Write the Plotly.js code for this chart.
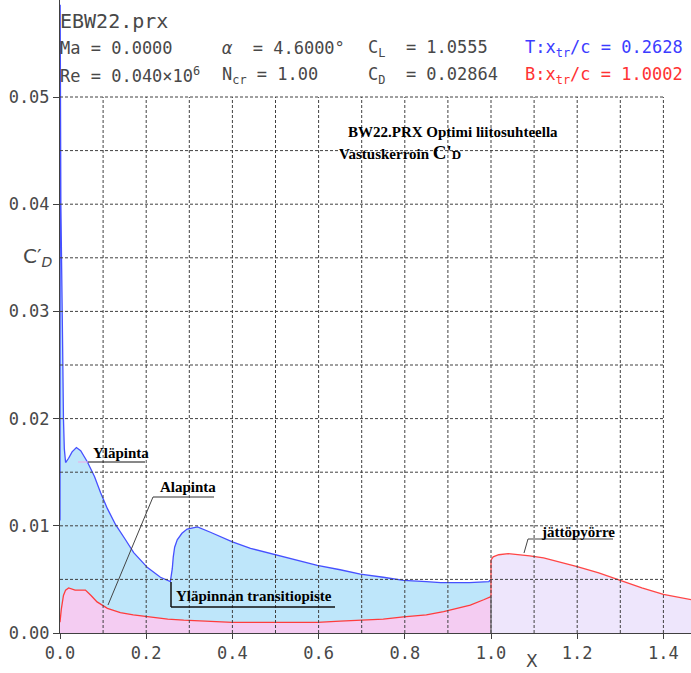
<!DOCTYPE html>
<html>
<head>
<meta charset="utf-8">
<script src="https://cdn.plot.ly/plotly-3.0.1.min.js"></script>
<style>html,body{margin:0;padding:0;background:#fff;}#chart{width:691px;height:673px;}</style>
</head>
<body>
<div id="chart"></div>
<script>
// Upper surface (Yläpinta) C'D
const xTop = [0, 0.0004, 0.002, 0.004, 0.006, 0.008, 0.010, 0.013, 0.020, 0.028, 0.038, 0.048, 0.063, 0.080, 0.094, 0.110, 0.129, 0.152, 0.171, 0.203, 0.233, 0.256, 0.2605, 0.2628, 0.266, 0.272, 0.283, 0.295, 0.319, 0.349, 0.40, 0.442, 0.50, 0.55, 0.597, 0.65, 0.697, 0.75, 0.797, 0.85, 0.883, 0.95, 0.995, 1.0];
const yTop = [0.0105, 0.0586, 0.040, 0.035, 0.027, 0.020, 0.0172, 0.0159, 0.0163, 0.0169, 0.0173, 0.0170, 0.0160, 0.0146, 0.0131, 0.0116, 0.0101, 0.0087, 0.0075, 0.0061, 0.0052, 0.0048, 0.0060, 0.0071, 0.0080, 0.0087, 0.0093, 0.0097, 0.0099, 0.0094, 0.0085, 0.0079, 0.0073, 0.0068, 0.0063, 0.0059, 0.0055, 0.0052, 0.0049, 0.0048, 0.0047, 0.0047, 0.0048, 0.0050];
// Lower surface (Alapinta) C'D
const xBot = [0, 0.003, 0.008, 0.013, 0.020, 0.035, 0.048, 0.059, 0.072, 0.086, 0.11, 0.14, 0.17, 0.21, 0.25, 0.287, 0.33, 0.40, 0.50, 0.597, 0.65, 0.697, 0.75, 0.797, 0.85, 0.89, 0.925, 0.952, 0.983, 1.0];
const yBot = [0.0010, 0.0022, 0.0035, 0.0040, 0.0042, 0.0040, 0.0040, 0.0040, 0.0035, 0.0029, 0.0023, 0.0019, 0.0017, 0.0015, 0.0013, 0.0012, 0.0011, 0.0010, 0.0010, 0.0010, 0.0011, 0.0012, 0.0013, 0.0015, 0.0017, 0.0020, 0.0023, 0.0026, 0.0031, 0.0034];
// Wake (jättöpyörre)
const xWake = [1.0, 1.0, 1.005, 1.018, 1.04, 1.068, 1.09, 1.122, 1.16, 1.2, 1.25, 1.30, 1.35, 1.40, 1.465];
const yWake = [0.0034, 0.0068, 0.0071, 0.0073, 0.0074, 0.0073, 0.0072, 0.0070, 0.0066, 0.0062, 0.0056, 0.0049, 0.0042, 0.0036, 0.0031];

const xTickVals = [0, 0.2, 0.4, 0.6, 0.8, 1.0, 1.2, 1.4];
const yTickVals = [0, 0.01, 0.02, 0.03, 0.04, 0.05];

const W = 691, H = 673, ML = 60, MB = 40;
const PW = W - ML, PH = H - MB;
const px = v => (v - ML) / PW;
const py = v => (PH - v) / PH;

const mono = "DejaVu Sans Mono";
const serif = "Liberation Serif, Times New Roman, serif";
const txtCol = "#484848";

const traces = [
  {x: xTop, y: yTop, type: "scatter", mode: "lines", fill: "tozeroy",
   fillcolor: "rgb(190,230,250)", line: {color: "rgb(70,80,255)", width: 1.3}, hoverinfo: "skip"},
  {x: xBot, y: yBot, type: "scatter", mode: "lines", fill: "tozeroy",
   fillcolor: "rgb(244,204,242)", line: {color: "rgb(255,60,60)", width: 1.3}, hoverinfo: "skip"},
  {x: xWake, y: yWake, type: "scatter", mode: "lines", fill: "tozeroy",
   fillcolor: "rgb(238,230,252)", line: {color: "rgb(255,70,70)", width: 1.3}, hoverinfo: "skip"}
];

const shapes = [];
const gridStyle = {color: "#404040", width: 1, dash: "3px,2px"};
for (let i = 1; i <= 14; i++) {
  const xv = i / 10;
  shapes.push({type: "line", xref: "x", yref: "y", x0: xv, x1: xv, y0: 0, y1: 0.05, line: gridStyle, layer: "above"});
}
for (let j = 1; j <= 10; j++) {
  const yv = j * 0.005;
  shapes.push({type: "line", xref: "x", yref: "y", x0: 0, x1: 1.4, y0: yv, y1: yv, line: gridStyle, layer: "above"});
}
// trailing edge separator
shapes.push({type: "line", xref: "x", yref: "y", x0: 1.0, x1: 1.0, y0: 0, y1: yBot[yBot.length - 1], line: {color: "#555", width: 1.2}, layer: "above"});

function seg(x0, y0, x1, y1, color, width) {
  shapes.push({type: "line", xref: "paper", yref: "paper", x0: px(x0), y0: py(y0), x1: px(x1), y1: py(y1),
    line: {color: color, width: width || 1}, layer: "above"});
}
// Yläpinta underline
seg(78, 462, 88, 462, "rgb(240,170,230)", 1);
seg(88, 462, 145, 462, "#111", 1);
// Alapinta
seg(153, 497, 214, 497, "#333", 1);
seg(153, 497, 108, 605, "#444", 1);
// transition bracket
seg(171, 582, 171, 607, "#111", 1.5);
seg(171, 607, 335, 607, "#111", 1.5);
// jättöpyörre
seg(528, 539, 613, 539, "#444", 1.2);
seg(528, 539, 524, 553, "#444", 1);

const anns = [];
function txt(x, y, text, font, anchor) {
  anns.push({xref: "paper", yref: "paper", x: px(x), y: py(y), text: text, showarrow: false,
    xanchor: anchor || "left", yanchor: "middle", font: font, borderpad: 0});
}
const nb = s => s.replace(/ /g, "\u00a0");
const hf = {family: mono, size: 17, color: txtCol};
txt(59, 21, "EBW22.prx", {family: mono, size: 20, color: txtCol});
txt(59, 48, nb("Ma = 0.0000"), hf);
txt(221, 48, nb("<i>α</i>  = 4.6000°"), hf);
txt(367, 48, nb("C<sub>L</sub>  = 1.0555"), hf);
txt(524, 48, nb("T:x<sub>tr</sub>/c = 0.2628"), {family: mono, size: 17, color: "rgb(60,60,255)"});
txt(59, 75, nb("Re = 0.040×10<sup>6</sup>"), hf);
txt(221, 75, nb("N<sub>cr</sub> = 1.00"), hf);
txt(367, 75, nb("C<sub>D</sub>  = 0.02864"), hf);
txt(524, 75, nb("B:x<sub>tr</sub>/c = 1.0002"), {family: mono, size: 17, color: "rgb(255,50,50)"});

const bf = {family: serif, size: 15, color: "#000", weight: "bold"};
txt(347, 132, "<b>BW22.PRX Optimi liitosuhteella</b>", bf);
txt(338, 152, "<b>Vastuskerroin <span style='font-size:19px'>C'</span><span style='font-size:13px'>D</span></b>", bf);
txt(92, 453, "<b>Yläpinta</b>", bf);
txt(159, 487, "<b>Alapinta</b>", bf);
txt(175, 596, "<b>Yläpinnan transitiopiste</b>", bf);
txt(540, 532, "<b>jättöpyörre</b>", bf);

// axis titles
txt(22, 257, "C′<sub><i>D</i></sub>", {family: "DejaVu Sans", size: 20, color: txtCol});
txt(532, 661, "X", {family: "DejaVu Sans", size: 17, color: txtCol}, "center");

const layout = {
  width: W, height: H,
  margin: {l: ML, r: 0, t: 0, b: MB, pad: 0},
  paper_bgcolor: "#fff", plot_bgcolor: "#fff",
  showlegend: false,
  xaxis: {range: [0, PW / 431], showgrid: false, zeroline: false, showline: true,
    linecolor: "#404040", linewidth: 1, ticks: "outside", ticklen: 5, tickcolor: "#404040",
    tickvals: xTickVals, tickformat: ".1f", tickfont: {family: mono, size: 17, color: txtCol}},
  yaxis: {range: [0, PH / 10720], showgrid: false, zeroline: false, showline: true,
    linecolor: "#404040", linewidth: 1, ticks: "outside", ticklen: 6, tickcolor: "#404040",
    tickvals: yTickVals, tickformat: ".2f", tickfont: {family: mono, size: 17, color: txtCol}},
  shapes: shapes,
  annotations: anns
};

Plotly.newPlot("chart", traces, layout, {displayModeBar: false, staticPlot: true});
</script>
</body>
</html>
